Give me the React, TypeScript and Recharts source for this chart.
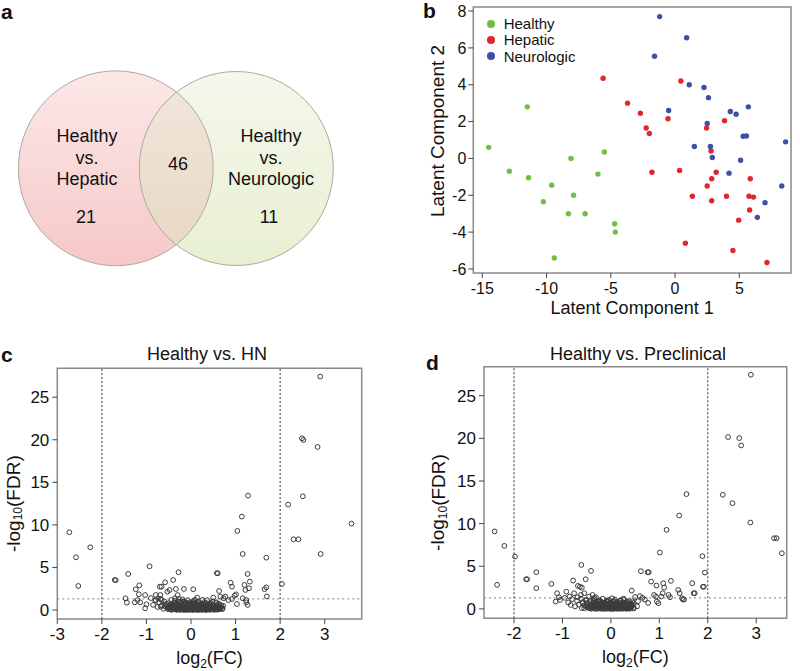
import React from 'react';
import { ScatterChart, Scatter, XAxis, YAxis, ReferenceLine, ReferenceArea, Label, Legend } from 'recharts';

const FONT = '"Liberation Sans", Arial, Helvetica, sans-serif';

// ---------- Panel a: Venn ----------
const vennCircles = [
  { x: 115.8, y: 168.3, r: 97.4, name: 'Healthy vs. Hepatic' },
  { x: 236.3, y: 168.5, r: 97.0, name: 'Healthy vs. Neurologic' },
];
const vennCounts = { hepaticOnly: 21, shared: 46, neuroOnly: 11 };
const vennText = [
  { x: 87, y: 157.5, lines: ['Healthy', 'vs.', 'Hepatic'] },
  { x: 86, y: 217, lines: [String(vennCounts.hepaticOnly)] },
  { x: 178, y: 164, lines: [String(vennCounts.shared)] },
  { x: 271, y: 157.5, lines: ['Healthy', 'vs.', 'Neurologic'] },
  { x: 269, y: 217, lines: [String(vennCounts.neuroOnly)] },
];

// ---------- Panel b: latent components ----------
const healthyPts = [
  [-14.5, 0.6], [-11.5, 2.8], [-12.9, -0.7], [-11.4, -1.05], [-9.6, -1.45], [-8.1, 0.0], [-7.9, -2.0],
  [-10.25, -2.35], [-8.3, -3.0], [-7.0, -3.0], [-6.0, -0.85], [-5.5, 0.35], [-4.7, -3.55], [-4.65, -4.0], [-9.4, -5.4],
];
const hepaticPts = [
  [-5.6, 4.35], [-3.7, 3.0], [-2.7, 2.45], [-2.25, 1.65], [-2.0, 1.35], [-1.8, -0.75], [-0.55, 2.15], [0.45, 4.2],
  [0.35, -0.65], [0.8, -4.6], [1.35, -2.05], [2.45, 1.65], [2.5, -1.5], [2.8, 0.4], [2.85, -1.1], [2.85, -2.3],
  [3.2, -0.75], [3.85, 2.05], [4.0, -2.05], [4.5, -5.0], [4.95, -3.35], [5.75, -2.05], [5.85, -1.1], [6.1, -2.1],
  [5.8, -2.8], [7.15, -5.65],
];
const neurologicPts = [
  [-1.2, 7.7], [0.9, 6.55], [-1.6, 5.55], [1.1, 4.0], [2.25, 3.85], [2.6, 3.3], [-0.5, 2.6], [4.3, 2.55],
  [4.75, 2.4], [5.7, 2.8], [2.5, 1.9], [5.3, 1.2], [5.55, 1.22], [1.5, 0.65], [2.75, 0.65], [2.9, 0.05],
  [5.1, -0.1], [4.2, -0.8], [8.6, 0.9], [8.3, -1.5], [7.0, -2.4], [6.4, -3.2],
];
const bXTicks = [-15, -10, -5, 0, 5];
const bYTicks = [-6, -4, -2, 0, 2, 4, 6, 8];

// ---------- Panel c: Healthy vs. HN volcano ----------
const cSparse = [
  [-2.73, 9.13], [-2.58, 6.19], [-2.53, 2.82], [-2.26, 7.37], [-1.71, 3.53], [-1.69, 3.5], [-1.41, 4.23], [-0.93, 5.13],
  [-0.28, 4.43], [-0.4, 3.52], [-0.58, 3.25], [-1.16, 2.9], [-1.24, 2.43], [-1.47, 1.37], [-1.44, 0.86], [-1.17, 1.84],
  [-1.2, 1.17], [-1.26, 0.9], [-1.14, 0.9], [-1.03, 1.76], [-1.0, 0.67], [-1.03, 0.2], [-0.7, 2.74], [-0.66, 2.74],
  [-0.79, 1.76], [-0.79, 1.17], [-0.74, 1.37], [-0.69, 1.76], [-0.66, 1.17], [-0.53, 2.15], [-0.48, 2.35], [-0.34, 2.47],
  [-0.16, 2.47], [-0.68, 0.39], [-0.58, 0.67], [-0.5, 0.2], [-0.44, 1.17], [-0.36, 1.37], [-0.3, 1.76], [-0.4, 0.67],
  [0.05, 2.43], [0.14, 1.45], [0.58, 4.33], [0.6, 4.31], [0.63, 2.23], [0.5, 1.45], [0.66, 1.57], [0.73, 1.37],
  [0.63, 0.7], [0.71, 0.2], [0.77, 1.57], [0.89, 3.21], [0.92, 2.74], [0.98, 1.68], [1.01, 1.84], [0.92, 1.29],
  [0.84, 1.17], [1.03, 0.7], [1.16, 6.58], [1.2, 2.94], [1.27, 4.23], [1.32, 3.33], [1.22, 2.35], [1.3, 2.55],
  [1.16, 1.37], [1.24, 1.17], [1.27, 0.59], [1.24, 0.9], [1.69, 6.15], [1.65, 2.45], [1.69, 2.66], [1.7, 1.6],
  [2.04, 3.06], [1.04, 9.29], [1.14, 10.97], [1.28, 13.44], [2.18, 12.38], [2.3, 8.31], [2.41, 8.31], [2.49, 20.18],
  [2.52, 19.98], [2.51, 13.36], [2.84, 19.16], [2.9, 27.43], [2.91, 6.58], [3.6, 10.15],
];
const cDense = [
  [-0.52, 0.1], [-0.48, 0.3], [-0.45, 0.05], [-0.42, 0.55], [-0.4, 0.2], [-0.38, 0.85], [-0.36, 0.1], [-0.35, 1.1],
  [-0.33, 0.4], [-0.31, 0.02], [-0.3, 0.7], [-0.28, 0.25], [-0.27, 1.3], [-0.25, 0.05], [-0.24, 0.5], [-0.22, 0.9],
  [-0.21, 0.15], [-0.2, 0.35], [-0.18, 0.6], [-0.17, 0.02], [-0.16, 1.0], [-0.15, 0.2], [-0.13, 0.45], [-0.12, 0.1],
  [-0.11, 0.75], [-0.1, 0.3], [-0.09, 0.02], [-0.08, 0.55], [-0.07, 1.15], [-0.06, 0.2], [-0.05, 0.4], [-0.04, 0.08],
  [-0.03, 0.65], [-0.02, 0.25], [-0.01, 0.9], [0.0, 0.05], [0.01, 0.45], [0.02, 0.15], [0.03, 0.7], [0.04, 0.3],
  [0.05, 0.02], [0.06, 1.05], [0.07, 0.5], [0.08, 0.12], [0.09, 0.35], [0.1, 0.8], [0.11, 0.05], [0.12, 0.25],
  [0.13, 0.6], [0.14, 0.15], [0.15, 0.4], [0.16, 0.02], [0.17, 0.95], [0.18, 0.3], [0.19, 0.1], [0.2, 0.55],
  [0.21, 0.2], [0.22, 0.75], [0.23, 0.05], [0.24, 0.4], [0.25, 0.15], [0.26, 1.2], [0.27, 0.3], [0.28, 0.6],
  [0.29, 0.08], [0.3, 0.45], [0.32, 0.2], [0.33, 0.85], [0.34, 0.02], [0.35, 0.35], [0.37, 0.6], [0.38, 0.1],
  [0.4, 0.3], [0.42, 0.75], [0.43, 0.05], [0.45, 0.45], [0.47, 0.2], [0.48, 1.0], [0.5, 0.1], [0.52, 0.55],
  [0.54, 0.25], [0.56, 0.8], [0.58, 0.05], [0.6, 0.4], [0.62, 0.15], [0.64, 0.65], [0.67, 0.3], [0.7, 0.1],
  [0.72, 0.5], [-0.55, 0.7], [-0.58, 0.4], [-0.6, 1.0], [-0.62, 0.15], [-0.65, 0.55], [-0.68, 1.3], [-0.72, 0.9],
  [-0.75, 0.35], [-0.8, 1.1], [-0.85, 0.6], [-0.9, 1.4], [-0.44, 0.75], [-0.19, 1.25], [0.09, 1.2], [0.36, 1.15],
];
const cCore = [
  [-0.46, 0.12], [-0.44, 0.32], [-0.43, 0.02], [-0.41, 0.45], [-0.39, 0.15], [-0.37, 0.6], [-0.36, 0.28], [-0.34, 0.05],
  [-0.33, 0.72], [-0.32, 0.18], [-0.3, 0.4], [-0.29, 0.08], [-0.28, 0.55], [-0.26, 0.22], [-0.25, 0.8], [-0.24, 0.02],
  [-0.23, 0.35], [-0.22, 0.12], [-0.2, 0.62], [-0.19, 0.25], [-0.18, 0.05], [-0.17, 0.45], [-0.16, 0.15], [-0.15, 0.7],
  [-0.14, 0.3], [-0.13, 0.02], [-0.12, 0.52], [-0.11, 0.18], [-0.1, 0.85], [-0.09, 0.38], [-0.08, 0.08], [-0.07, 0.62],
  [-0.06, 0.28], [-0.05, 0.02], [-0.04, 0.48], [-0.03, 0.15], [-0.02, 0.75], [-0.01, 0.35], [0.0, 0.12], [0.01, 0.6],
  [0.02, 0.28], [0.03, 0.02], [0.04, 0.5], [0.05, 0.18], [0.06, 0.78], [0.07, 0.32], [0.08, 0.05], [0.09, 0.58],
  [0.1, 0.22], [0.11, 0.42], [0.12, 0.08], [0.13, 0.7], [0.14, 0.3], [0.15, 0.02], [0.16, 0.55], [0.17, 0.18],
  [0.18, 0.4], [0.19, 0.62], [0.2, 0.05], [0.21, 0.32], [0.22, 0.5], [0.23, 0.15], [0.24, 0.72], [0.25, 0.02],
  [0.26, 0.42], [0.27, 0.6], [0.28, 0.22], [0.29, 0.38], [0.3, 0.08], [0.31, 0.55], [0.32, 0.02], [0.33, 0.3],
  [0.34, 0.65], [0.35, 0.15], [0.36, 0.45], [0.37, 0.05], [0.38, 0.3], [0.39, 0.55], [0.4, 0.12], [0.41, 0.42],
  [0.42, 0.02], [0.43, 0.25], [0.44, 0.6], [0.46, 0.1], [0.47, 0.35], [0.49, 0.05], [0.5, 0.5], [0.51, 0.2],
  [0.53, 0.02], [0.55, 0.32], [0.57, 0.15], [0.59, 0.6], [0.61, 0.05], [0.63, 0.28], [0.66, 0.12], [0.68, 0.5],
  [-0.47, 0.5], [-0.49, 0.2], [-0.5, 0.8], [-0.53, 0.35], [-0.35, 0.92], [-0.27, 0.98], [-0.14, 0.95], [0.04, 0.95],
  [0.15, 0.88], [0.29, 0.9], [0.44, 0.85], [0.57, 0.9],
];
const cXTicks = [-3, -2, -1, 0, 1, 2, 3];

// ---------- Panel d: Healthy vs. Preclinical volcano ----------
const dSparse = [
  [-2.4, 9.08], [-2.35, 2.82], [-2.2, 7.39], [-1.98, 6.14], [-1.75, 3.48], [-1.73, 3.48], [-1.54, 4.3], [-1.54, 2.43],
  [-1.23, 2.93], [-0.61, 5.16], [-0.41, 4.46], [-0.52, 3.48], [-0.78, 3.33], [-0.68, 2.7], [-0.64, 2.6], [-0.6, 2.5],
  [-1.11, 1.84], [-1.07, 1.37], [-1.14, 0.86], [-1.05, 1.05], [-0.92, 2.03], [-0.85, 1.45], [-0.83, 0.47], [-0.76, 1.84],
  [-0.69, 1.37], [-0.62, 1.64], [-0.55, 1.84], [-0.5, 1.05], [-0.58, 0.67], [-0.45, 1.45], [-0.38, 1.64], [-0.31, 1.37],
  [-0.55, 0.08], [1.01, 6.61], [1.15, 9.27], [1.41, 10.95], [1.56, 13.46], [0.62, 4.42], [0.76, 4.3], [0.78, 4.3],
  [0.83, 3.21], [0.94, 2.74], [1.08, 3.01], [1.1, 2.5], [1.24, 3.29], [1.07, 1.84], [0.89, 1.64], [0.93, 1.45],
  [0.95, 0.86], [0.98, 0.67], [1.04, 1.45], [1.19, 1.64], [1.22, 1.37], [1.39, 2.23], [1.42, 1.84], [1.47, 1.25],
  [1.49, 1.1], [1.51, 1.1], [1.68, 3.01], [1.71, 1.84], [1.73, 1.84], [1.89, 6.18], [1.94, 4.26], [1.9, 2.6],
  [1.92, 2.6], [0.43, 2.15], [0.5, 1.4], [0.6, 1.5], [0.65, 1.3], [0.7, 1.1], [0.77, 0.7], [0.56, 0.9],
  [0.47, 0.7], [0.27, 1.1], [0.37, 0.9], [0.4, 0.3], [0.54, 0.3], [0.33, 0.5], [2.31, 13.38], [2.42, 20.15],
  [2.51, 12.4], [2.65, 20.03], [2.69, 19.17], [2.89, 27.46], [2.88, 10.13], [3.37, 8.29], [3.42, 8.29], [3.53, 6.53],
];
const dDense = [
  [-0.45, 0.15], [-0.43, 0.5], [-0.41, 0.9], [-0.4, 0.05], [-0.38, 0.3], [-0.36, 0.7], [-0.35, 1.15], [-0.33, 0.1],
  [-0.31, 0.45], [-0.3, 0.02], [-0.28, 0.8], [-0.27, 0.25], [-0.25, 0.55], [-0.24, 1.0], [-0.22, 0.08], [-0.21, 0.35],
  [-0.2, 0.65], [-0.18, 0.15], [-0.17, 1.2], [-0.16, 0.4], [-0.14, 0.02], [-0.13, 0.75], [-0.12, 0.25], [-0.11, 0.5],
  [-0.1, 0.1], [-0.09, 0.9], [-0.08, 0.3], [-0.07, 0.05], [-0.06, 0.6], [-0.05, 0.2], [-0.04, 1.05], [-0.03, 0.4],
  [-0.02, 0.12], [-0.01, 0.7], [0.0, 0.02], [0.01, 0.3], [0.02, 0.55], [0.03, 0.18], [0.04, 0.85], [0.05, 0.05],
  [0.06, 0.4], [0.07, 0.25], [0.08, 1.1], [0.09, 0.1], [0.1, 0.6], [0.11, 0.3], [0.12, 0.02], [0.13, 0.8],
  [0.14, 0.45], [0.15, 0.15], [0.16, 0.5], [0.17, 0.05], [0.18, 0.95], [0.19, 0.3], [0.2, 0.2], [0.22, 0.65],
  [0.23, 0.08], [0.24, 0.4], [0.26, 1.2], [0.27, 0.15], [0.28, 0.55], [0.3, 0.3], [0.31, 0.05], [0.33, 0.75],
  [0.35, 0.2], [0.36, 0.45], [0.38, 0.1], [0.4, 0.6], [0.42, 0.25], [0.44, 0.9], [-0.48, 0.6], [-0.5, 0.25],
  [-0.52, 1.0], [-0.55, 0.4], [-0.58, 0.8], [-0.6, 0.1], [-0.62, 1.2], [-0.66, 0.5], [-0.7, 0.95], [-0.74, 0.3],
  [-0.8, 1.15], [-0.88, 0.75], [-0.95, 1.3], [-0.23, 0.82], [0.02, 1.25], [0.21, 1.0], [-0.34, 1.3], [0.47, 0.15],
];
const dCore = [
  [-0.44, 0.1], [-0.42, 0.35], [-0.41, 0.02], [-0.39, 0.55], [-0.38, 0.2], [-0.37, 0.75], [-0.35, 0.05], [-0.34, 0.42],
  [-0.33, 0.15], [-0.31, 0.62], [-0.3, 0.3], [-0.29, 0.02], [-0.28, 0.5], [-0.26, 0.18], [-0.25, 0.85], [-0.24, 0.35],
  [-0.23, 0.05], [-0.22, 0.58], [-0.2, 0.25], [-0.19, 0.02], [-0.18, 0.7], [-0.17, 0.42], [-0.16, 0.12], [-0.15, 0.55],
  [-0.14, 0.28], [-0.13, 0.02], [-0.12, 0.65], [-0.11, 0.38], [-0.1, 0.18], [-0.09, 0.5], [-0.08, 0.05], [-0.07, 0.8],
  [-0.06, 0.32], [-0.05, 0.12], [-0.04, 0.6], [-0.03, 0.25], [-0.02, 0.02], [-0.01, 0.45], [0.0, 0.18], [0.01, 0.72],
  [0.02, 0.35], [0.03, 0.05], [0.04, 0.55], [0.05, 0.22], [0.06, 0.02], [0.07, 0.62], [0.08, 0.38], [0.09, 0.15],
  [0.1, 0.48], [0.11, 0.05], [0.12, 0.75], [0.13, 0.28], [0.14, 0.1], [0.15, 0.6], [0.16, 0.32], [0.17, 0.02],
  [0.18, 0.45], [0.19, 0.18], [0.2, 0.7], [0.21, 0.05], [0.22, 0.38], [0.23, 0.55], [0.24, 0.15], [0.25, 0.02],
  [0.26, 0.42], [0.27, 0.25], [0.28, 0.65], [0.29, 0.1], [0.3, 0.5], [0.31, 0.2], [0.32, 0.02], [0.33, 0.35],
  [0.34, 0.58], [0.35, 0.08], [0.36, 0.28], [0.37, 0.45], [0.38, 0.02], [0.39, 0.2], [0.4, 0.4], [0.41, 0.1],
  [0.42, 0.65], [0.43, 0.3], [-0.46, 0.45], [-0.48, 0.15], [-0.5, 0.7], [-0.36, 0.95], [-0.21, 0.92], [-0.08, 0.98],
  [0.06, 0.9], [0.19, 0.95], [0.33, 0.88], [0.45, 0.5], [0.47, 0.05],
];
const dXTicks = [-2, -1, 0, 1, 2, 3];
const volcanoYTicks = [0, 5, 10, 15, 20, 25];

const toPts = (a: number[][]) => a.map(([x, y]) => ({ x, y }));

// ---------- shapes ----------
const vennFillIds: Record<string, string> = { 'Healthy vs. Hepatic': 'vennPink', 'Healthy vs. Neurologic': 'vennGreen' };

const VennFill = (p: any) => {
  const { cx, cy, payload } = p;
  return (
    <g>
      <defs>
        <linearGradient id="vennPink" x1="0" y1="0" x2="0" y2="1">
          <stop offset="0%" stopColor="#fce8e8" />
          <stop offset="100%" stopColor="#f6c8c8" />
        </linearGradient>
        <linearGradient id="vennGreen" x1="0" y1="0" x2="0" y2="1">
          <stop offset="0%" stopColor="#f4f8ec" />
          <stop offset="100%" stopColor="#e8f0d1" />
        </linearGradient>
        <linearGradient id="vennMix" x1="0" y1="0" x2="0" y2="1">
          <stop offset="0%" stopColor="#f1e7de" />
          <stop offset="100%" stopColor="#e7d7c1" />
        </linearGradient>
      </defs>
      <circle cx={cx} cy={cy} r={payload.r} fill={`url(#${vennFillIds[payload.name]})`} />
    </g>
  );
};

const VennLens = (p: any) => {
  const { cx, cy, payload } = p;
  const other = vennCircles[0];
  const ox = cx + (other.x - payload.x);
  const oy = cy + (other.y - payload.y);
  return (
    <g>
      <defs>
        <clipPath id="vennLeftClip">
          <circle cx={ox} cy={oy} r={other.r} />
        </clipPath>
      </defs>
      <circle cx={cx} cy={cy} r={payload.r} fill="url(#vennMix)" clipPath="url(#vennLeftClip)" />
    </g>
  );
};

const VennOutline = (p: any) => (
  <circle cx={p.cx} cy={p.cy} r={p.payload.r} fill="none" stroke="#b0a7a2" strokeWidth={1} />
);

const VennTextShape = (p: any) => {
  const { cx, cy, payload } = p;
  const n = payload.lines.length;
  const lh = 21.5;
  return (
    <text x={cx} textAnchor="middle" fontFamily={FONT} fontSize={18} fill="#111">
      {payload.lines.map((l: string, i: number) => (
        <tspan key={i} x={cx} y={cy + (i - (n - 1) / 2) * lh} dominantBaseline="central">{l}</tspan>
      ))}
    </text>
  );
};

const makeDot = (color: string) => (p: any) => <circle cx={p.cx} cy={p.cy} r={2.7} fill={color} />;

const Ring = (p: any) => <circle cx={p.cx} cy={p.cy} r={2.4} fill="none" stroke="#3c3c3c" strokeWidth={1} />;

const bColors: Record<string, string> = { Healthy: '#6fbf47', Hepatic: '#e0272d', Neurologic: '#3d50a6' };

const LegendContent = (props: any) => {
  const payload = props.payload || [];
  return (
    <div style={{ fontFamily: FONT, fontSize: 15, color: '#111' }}>
      {payload.map((e: any) => (
        <div key={e.value} style={{ display: 'flex', alignItems: 'center', height: 16.2, whiteSpace: 'nowrap' }}>
          <span style={{ display: 'inline-block', width: 8, height: 8, borderRadius: 4, background: bColors[e.value] || e.color, marginRight: 9 }} />
          <span>{e.value}</span>
        </div>
      ))}
    </div>
  );
};

// labels
const RotTitle = (text: React.ReactNode, dx: number, dyc: number, size: number) => (props: any) => {
  const vb = props.viewBox || {};
  const cx = vb.x + dx;
  const cy = vb.y + vb.height / 2 + dyc;
  return (
    <text
      transform={`translate(${cx},${cy}) rotate(-90)`}
      textAnchor="middle"
      dominantBaseline="central"
      fontFamily={FONT}
      fontSize={size}
      fill="#111"
    >
      {text}
    </text>
  );
};

const XTitle = (text: React.ReactNode, baseline: number, size: number) => (props: any) => {
  const vb = props.viewBox || {};
  return (
    <text x={vb.x + vb.width / 2} y={vb.y + baseline} textAnchor="middle" fontFamily={FONT} fontSize={size} fill="#111">
      {text}
    </text>
  );
};

const fdrTitle = (
  <>
    -log<tspan dy={5} fontSize={12}>10</tspan><tspan dy={-5}>(FDR)</tspan>
  </>
);
const fcTitle = (
  <>
    log<tspan dy={4} fontSize={12}>2</tspan><tspan dy={-4}>(FC)</tspan>
  </>
);

const tickStyle = (size: number) => ({ fontSize: size, fill: '#111', fontFamily: FONT });

const Volcano = ({ sparse, dense, core, xDomain, xTicks, yDomain, yAxisW, margin, xAxisH, yTitleDx }: any) => (
  <ScatterChart width={400} height={331} margin={margin}>
    <XAxis
      type="number"
      dataKey="x"
      domain={xDomain}
      ticks={xTicks}
      interval={0}
      allowDataOverflow
      height={xAxisH}
      axisLine={false}
      tickLine={{ stroke: '#444' }}
      tickSize={5}
      tickMargin={4}
      tick={tickStyle(17)}
    >
      <Label content={XTitle(fcTitle, 44.5, 18)} />
    </XAxis>
    <YAxis
      type="number"
      dataKey="y"
      domain={yDomain}
      ticks={volcanoYTicks}
      interval={0}
      allowDataOverflow
      width={yAxisW}
      axisLine={false}
      tickLine={{ stroke: '#444' }}
      tickSize={5}
      tickMargin={3}
      tick={tickStyle(17)}
    >
      <Label content={RotTitle(fdrTitle, yTitleDx, 10, 19)} />
    </YAxis>
    <ReferenceArea x1={xDomain[0]} x2={xDomain[1]} y1={yDomain[0]} y2={yDomain[1]} fill="none" stroke="#8a8a8a" strokeWidth={1.5} />
    <ReferenceLine y={1.3} stroke="#9a9a9a" strokeDasharray="2 3" strokeWidth={1.2} />
    <ReferenceLine x={-2} stroke="#555" strokeDasharray="2 2" strokeWidth={1.2} />
    <ReferenceLine x={2} stroke="#555" strokeDasharray="2 2" strokeWidth={1.2} />
    <Scatter data={toPts(core)} shape={Ring} isAnimationActive={false} />
    <Scatter data={toPts(dense)} shape={Ring} isAnimationActive={false} />
    <Scatter data={toPts(sparse)} shape={Ring} isAnimationActive={false} />
  </ScatterChart>
);

export default function App() {
  return (
    <div style={{ position: 'absolute', left: 0, top: 0, width: 800, height: 671, background: '#fff', overflow: 'hidden' }}>
      {/* Panel a */}
      <div style={{ position: 'absolute', left: 0, top: 0 }}>
        <ScatterChart width={400} height={320} margin={{ top: 0, right: 0, bottom: 0, left: 0 }}>
          <XAxis type="number" dataKey="x" domain={[0, 400]} hide />
          <YAxis type="number" dataKey="y" domain={[0, 320]} reversed hide />
          <Scatter data={vennCircles} shape={VennFill} isAnimationActive={false} />
          <Scatter data={[vennCircles[1]]} shape={VennLens} isAnimationActive={false} />
          <Scatter data={vennCircles} shape={VennOutline} isAnimationActive={false} />
          <Scatter data={vennText} shape={VennTextShape} isAnimationActive={false} />
        </ScatterChart>
      </div>

      {/* Panel b */}
      <div style={{ position: 'absolute', left: 420, top: 0 }}>
        <ScatterChart width={380} height={320} margin={{ top: 7, right: 9, bottom: 0, left: 0 }}>
          <XAxis
            type="number"
            dataKey="x"
            domain={[-15.7, 9.02]}
            ticks={bXTicks}
            interval={0}
            allowDataOverflow
            height={47}
            axisLine={false}
            tickLine={{ stroke: '#444' }}
            tickSize={5}
            tickMargin={5}
            tick={tickStyle(16)}
          >
            <Label content={XTitle('Latent Component 1', 41, 18)} />
          </XAxis>
          <YAxis
            type="number"
            dataKey="y"
            domain={[-6.22, 8.22]}
            ticks={bYTicks}
            interval={0}
            allowDataOverflow
            width={53.3}
            axisLine={false}
            tickLine={{ stroke: '#444' }}
            tickSize={5}
            tickMargin={2}
            tick={tickStyle(16)}
          >
            <Label content={RotTitle('Latent Component 2', 17.5, -9, 19)} />
          </YAxis>
          <ReferenceArea x1={-15.7} x2={9.02} y1={-6.22} y2={8.22} fill="none" stroke="#8a8a8a" strokeWidth={1.5} />
          <Legend
            layout="vertical"
            align="center"
            verticalAlign="middle"
            content={LegendContent}
            wrapperStyle={{ left: 66.7, top: 15.6, width: 'auto', height: 'auto' }}
          />
          <Scatter name="Healthy" data={toPts(healthyPts)} fill={bColors.Healthy} shape={makeDot(bColors.Healthy)} isAnimationActive={false} />
          <Scatter name="Hepatic" data={toPts(hepaticPts)} fill={bColors.Hepatic} shape={makeDot(bColors.Hepatic)} isAnimationActive={false} />
          <Scatter name="Neurologic" data={toPts(neurologicPts)} fill={bColors.Neurologic} shape={makeDot(bColors.Neurologic)} isAnimationActive={false} />
        </ScatterChart>
      </div>

      {/* Panel c */}
      <div style={{ position: 'absolute', left: 0, top: 340 }}>
        <Volcano
          sparse={cSparse}
          dense={cDense}
          core={cCore}
          xDomain={[-3.0, 3.83]}
          xTicks={cXTicks}
          yDomain={[-1.06, 28.4]}
          yAxisW={57.3}
          margin={{ top: 28.3, right: 38.3, bottom: 0, left: 0 }}
          xAxisH={52}
          yTitleDx={13.3}
        />
      </div>

      {/* Panel d */}
      <div style={{ position: 'absolute', left: 400, top: 340 }}>
        <Volcano
          sparse={dSparse}
          dense={dDense}
          core={dCore}
          xDomain={[-2.62, 3.63]}
          xTicks={dXTicks}
          yDomain={[-1.1, 28.4]}
          yAxisW={84}
          margin={{ top: 26.7, right: 13.3, bottom: 0, left: 0 }}
          xAxisH={52.7}
          yTitleDx={37.5}
        />
      </div>

      {/* panel letters and titles */}
      <svg width={800} height={671} style={{ position: 'absolute', left: 0, top: 0, pointerEvents: 'none' }}>
        <g fontFamily={FONT} fontWeight="bold" fontSize={21} fill="#111">
          <text x={1} y={18.5}>a</text>
          <text x={423} y={18}>b</text>
          <text x={1} y={362}>c</text>
          <text x={426} y={370}>d</text>
        </g>
        <g fontFamily={FONT} fontSize={18} fill="#111" textAnchor="middle">
          <text x={207} y={359.5}>Healthy vs. HN</text>
          <text x={638} y={359.5}>Healthy vs. Preclinical</text>
        </g>
      </svg>
    </div>
  );
}
